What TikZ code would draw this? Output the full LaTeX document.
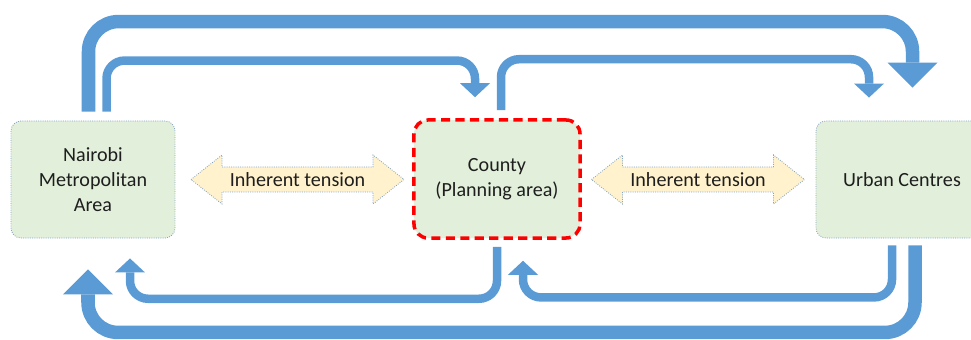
\documentclass[tikz,border=0pt]{standalone}
\usepackage{fontspec}
\setmainfont{Carlito}
\usetikzlibrary{calc,arrows.meta}
\definecolor{flowblue}{RGB}{91,155,213}
\definecolor{boxgreen}{RGB}{226,239,218}
\definecolor{boxedge}{RGB}{135,165,190}
\definecolor{tensionfill}{RGB}{255,242,204}
\definecolor{textgrey}{RGB}{30,30,30}
\newcommand{\labelfont}{\fontsize{14.3}{17.8}\selectfont}

\tikzset{
  levelbox/.style={draw=boxedge, densely dotted, line width=0.6pt, fill=boxgreen,
    rounded corners=0.25cm, minimum width=4.1cm, minimum height=2.925cm,
    align=center, font=\labelfont, text=textgrey},
  planning/.style={levelbox, draw=red, dash pattern=on 6.5pt off 3.8pt, line width=2.5pt,
    rounded corners=0.35cm, minimum width=4.15cm, minimum height=2.95cm},
  tensionedge/.style={draw=boxedge, densely dotted, line width=0.6pt, fill=tensionfill},
  tensionlabel/.style={font=\labelfont, text=textgrey, inner sep=0pt},
  bigflow/.style={draw=flowblue, line width=0.3375cm, rounded corners=0.75cm,
    -{Triangle[width=1.25cm,length=0.625cm,line width=0pt]}},
  smallflow/.style={draw=flowblue, line width=0.2125cm, rounded corners=0.45cm,
    -{Triangle[width=0.75cm,length=0.35cm,line width=0pt]}}
}

\begin{document}
\begin{tikzpicture}[x=0.025cm,y=0.025cm]
    \useasboundingbox (0,0) rectangle (971,340);

    % the three levels
    \node[levelbox] (nma) at (93,160.5) {Nairobi\\Metropolitan\\Area};
    \node[planning] (county) at (497,161) {County\\(Planning area)};
    \node[levelbox, minimum width=4.3cm] (urban) at (902,160.5) {Urban Centres};

    % tension between neighbouring levels
    \foreach \n/\x in {1/297.5,2/698}{%
      \draw[tensionedge] (\x-106.5,160.5) -- ++(31,24.5) -- ++(0,-12) -- ++(151,0)
        -- ++(0,12) -- ++(31,-24.5) -- ++(-31,-24.5) -- ++(0,12) -- ++(-151,0)
        -- ++(0,-12) -- cycle;
      \node[tensionlabel] (tension\n) at (\x,160.5) {Inherent tension};
    }

    % flows over the top
    \draw[bigflow] ($(nma.north)+(-4.5,9)$) -- ++(0,90) -| ($(urban.north)+(10.5,33)$);
    \draw[smallflow] ($(nma.north)+(13.5,9)$) -- ++(0,51) -| ($(county.north)+(-22,21)$);
    \draw[smallflow] ($(county.north)+(4,8)$) -- ++(0,51) -| ($(urban.north)+(-33,23)$);

    % flows back underneath
    \draw[smallflow] ($(county.south)+(0,-7)$) -- ++(0,-52) -| ($(nma.south)+(37,-20)$);
    \draw[smallflow] ($(urban.south)+(-10,-7)$) -- ++(0,-52) -| ($(county.south)+(26,-21)$);
    \draw[bigflow] ($(urban.south)+(13,-7)$) -- ++(0,-87) -| ($(nma.south)+(-5,-31)$);

\end{tikzpicture}
\end{document}
